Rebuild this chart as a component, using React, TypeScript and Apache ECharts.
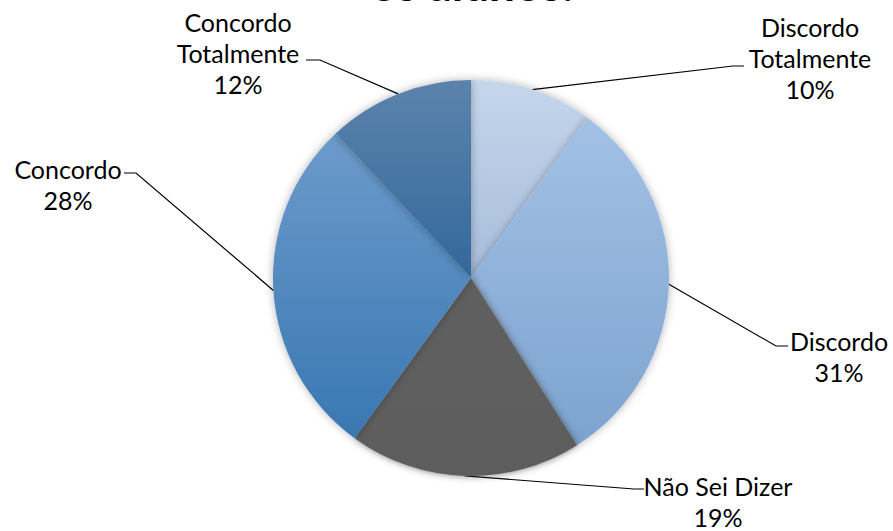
import React, { useEffect, useRef } from "react";
import * as echarts from "echarts";

const categories = ["Discordo Totalmente", "Discordo", "Não Sei Dizer", "Concordo", "Concordo Totalmente"];
const values = [10, 31, 19, 28, 12];
const titleText = "os alunos:";

const topColors = ["#c5d6ec", "#a3c1e5", "#5f5f5f", "#6c9bcb", "#5c83ac"];
const bottomColors = ["#a7bddb", "#7ca3cf", "#5d5d5d", "#3977b2", "#33689b"];
const shadowColors = ["rgba(0,0,0,0.3)", "rgba(0,0,0,0.3)", "rgba(60,60,60,0.7)", "rgba(0,0,0,0.3)", "rgba(0,0,0,0.3)"];

// label anchor (block centre) and leader elbow / end
const labelPos = [
  { x: 810, y: 58, elbow: [733, 66], end: [744, 66] },
  { x: 839, y: 356, elbow: [776, 346], end: [788, 346] },
  { x: 718, y: 501, elbow: [634, 489], end: [644, 489] },
  { x: 68, y: 184, elbow: [136, 173], end: [124, 173] },
  { x: 238, y: 53, elbow: [320, 60], end: [306, 60] },
];

const CX = 471;
const CY = 278;
const R = 198;

export default function App() {
  const ref = useRef<HTMLDivElement>(null);
  useEffect(() => {
    if (!ref.current) return;
    const chart = echarts.init(ref.current, undefined, { renderer: "svg" });
    const total = values.reduce((a, b) => a + b, 0);
    const mids: number[] = [];
    let acc = 0;
    values.forEach((v) => {
      mids.push(((acc + v / 2) / total) * Math.PI * 2);
      acc += v;
    });
    chart.setOption({
      animation: false,
      backgroundColor: "#ffffff",
      graphic: [
        {
          type: "text",
          x: 472,
          y: -17,
          style: {
            text: titleText,
            fontFamily: "Lato",
            fontWeight: "bold",
            fontSize: 46,
            fill: "#000000",
            align: "center",
            verticalAlign: "middle",
          },
        },
      ],
      series: [
        {
          type: "pie",
          center: [CX, CY],
          radius: R,
          startAngle: 90,
          clockwise: true,
          data: categories.map((name, i) => ({
            name,
            value: values[i],
            itemStyle: {
              color: new echarts.graphic.LinearGradient(0, 0, 0, 1, [
                { offset: 0, color: topColors[i] },
                { offset: 1, color: bottomColors[i] },
              ]),
              shadowColor: shadowColors[i],
              shadowBlur: i === 2 ? 7 : 8,
            },
          })),
          itemStyle: {
            borderWidth: 0,
          },
          label: {
            show: true,
            position: "outside",
            fontFamily: "Lato",
            fontSize: 25,
            lineHeight: 31,
            color: "#000000",
            align: "center",
            formatter: (p: any) =>
              p.name.replace(" Totalmente", "\nTotalmente") + "\n" + Math.round(p.percent) + "%",
          },
          labelLine: {
            show: true,
            lineStyle: { color: "#000000", width: 1.2 },
          },
          labelLayout: (params: any) => {
            const i = params.dataIndex;
            const lp = labelPos[i];
            const a = mids[i];
            const start = [CX + R * Math.sin(a), CY - R * Math.cos(a)];
            return {
              x: lp.x,
              y: lp.y,
              align: "center",
              verticalAlign: "middle",
              labelLinePoints: [start, lp.elbow, lp.end],
            };
          },
          emphasis: { disabled: true },
        },
      ],
    });
    return () => chart.dispose();
  }, []);
  return (
    <div
      ref={ref}
      style={{ position: "fixed", left: 0, top: 0, width: 893, height: 531, background: "#fff" }}
    />
  );
}
